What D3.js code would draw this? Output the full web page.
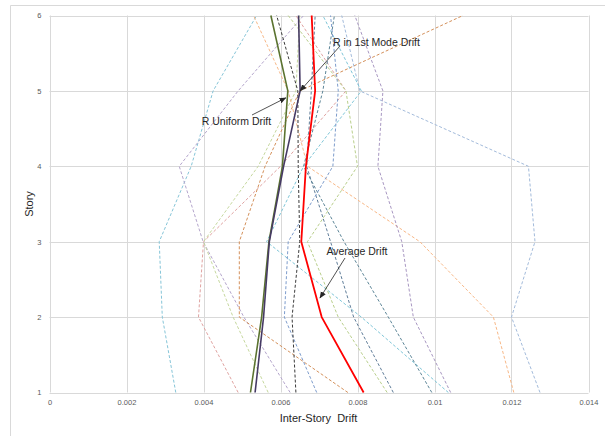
<!DOCTYPE html>
<html>
<head>
<meta charset="utf-8">
<script src="https://cdn.jsdelivr.net/npm/d3@7"></script>
<style>
  html, body { margin: 0; padding: 0; background: #fff; }
  svg { display: block; font-family: "Liberation Sans", Arial, sans-serif; }
</style>
</head>
<body>
<svg id="chart" width="605" height="436"></svg>
<script>
// ---------- data ----------
const stories = [1, 2, 3, 4, 5, 6];
const xTicks = [0, 0.002, 0.004, 0.006, 0.008, 0.01, 0.012, 0.014];
const xTickLabels = ["0", "0.002", "0.004", "0.006", "0.008", "0.01", "0.012", "0.014"];
const yTicks = [1, 2, 3, 4, 5, 6];

// individual record drifts (story 1 .. 6)
const gm01 = [0.00328, 0.00293, 0.00285, 0.00368, 0.00425, 0.00538];
const gm02 = [0.00625, 0.00505, 0.00399, 0.00337, 0.00490, 0.00660];
const gm03 = [0.00490, 0.00387, 0.00400, 0.00600, 0.00770, 0.00640];
const gm04 = [0.00568, 0.00477, 0.00400, 0.00542, 0.00640, 0.00650];
const gm05 = [0.00775, 0.00493, 0.00493, 0.00560, 0.00650, 0.01074];
const gm06 = [0.01206, 0.01153, 0.00962, 0.00670, 0.00620, 0.00530];
const gm07 = [0.01274, 0.01200, 0.01261, 0.01244, 0.00806, 0.00759];
const gm08 = [0.01042, 0.00945, 0.00915, 0.00853, 0.00866, 0.00793];
const gm09 = [0.01036, 0.00810, 0.00564, 0.00660, 0.00810, 0.00710];
const gm10 = [0.00893, 0.00790, 0.00730, 0.00668, 0.00680, 0.00690];
const gm11 = [0.00993, 0.00880, 0.00765, 0.00660, 0.00710, 0.00740];
const gm12 = [0.00877, 0.00750, 0.00670, 0.00800, 0.00770, 0.00620];
const gm13 = [0.00694, 0.00610, 0.00620, 0.00736, 0.00750, 0.00730];
const gm14 = [0.00640, 0.00630, 0.00650, 0.00646, 0.00645, 0.00590];

// summary drifts
const averageDrift = [0.00816, 0.00707, 0.00654, 0.00666, 0.00690, 0.00681];
const uniformDrift = [0.00522, 0.00551, 0.00570, 0.00605, 0.00619, 0.00575];
const modeDrift    = [0.00534, 0.00556, 0.00571, 0.00608, 0.00651, 0.00647];

// ---------- styles ----------
const dashedSeries = [
  { v: gm01, c: "#86c5d8" }, { v: gm02, c: "#b4a5cc" }, { v: gm03, c: "#e0a3a1" },
  { v: gm04, c: "#c6d89e" }, { v: gm05, c: "#d4905a" }, { v: gm06, c: "#f8b887" },
  { v: gm07, c: "#a3bbdb" }, { v: gm08, c: "#a897c2" }, { v: gm09, c: "#7fc6d8" },
  { v: gm10, c: "#5f7d99" }, { v: gm11, c: "#5c8597" }, { v: gm12, c: "#b9cf8c" },
  { v: gm13, c: "#7d9ccc" }, { v: gm14, c: "#3a3a3a" }
];
const solidSeries = [
  { v: uniformDrift, c: "#5b7330", w: 1.6 },
  { v: modeDrift, c: "#463a64", w: 1.6 },
  { v: averageDrift, c: "#ff0000", w: 1.8 }
];

// ---------- drawing ----------
const svg = d3.select("#chart");
const x = d3.scaleLinear().domain([0, 0.014]).range([49.5, 588.5]);
const y = d3.scaleLinear().domain([1, 6]).range([392.5, 15.5]);

// outer chart border (partially cropped)
svg.append("path")
  .attr("d", "M10.5,436 L10.5,5.5 L605,5.5")
  .attr("fill", "none").attr("stroke", "#d9d9d9").attr("stroke-width", 1);

// gridlines
const grid = svg.append("g");
grid.selectAll("line.v").data(xTicks).enter().append("line")
  .attr("x1", d => Math.round(x(d)) + 0.5).attr("x2", d => Math.round(x(d)) + 0.5)
  .attr("y1", y(6)).attr("y2", y(1))
  .attr("stroke", "#d9d9d9").attr("stroke-width", 1);
grid.selectAll("line.h").data(yTicks).enter().append("line")
  .attr("x1", x(0)).attr("x2", x(0.014))
  .attr("y1", d => Math.round(y(d)) + 0.5).attr("y2", d => Math.round(y(d)) + 0.5)
  .attr("stroke", "#d9d9d9").attr("stroke-width", 1);

// axes labels via d3 axes
const xAxis = d3.axisBottom(x).tickValues(xTicks)
  .tickFormat((d, i) => xTickLabels[i]).tickSize(0).tickPadding(7);
svg.append("g").attr("transform", `translate(0,${y(1)})`).call(xAxis)
  .call(g => g.select(".domain").remove())
  .call(g => g.selectAll("text").attr("fill", "#595959").attr("font-size", "7.5px")
    .attr("font-family", "Liberation Sans, Arial, sans-serif"));

const yAxis = d3.axisLeft(y).tickValues(yTicks).tickFormat(d3.format("d"))
  .tickSize(0).tickPadding(8);
svg.append("g").attr("transform", `translate(${x(0)},0)`).call(yAxis)
  .call(g => g.select(".domain").remove())
  .call(g => g.selectAll("text").attr("fill", "#595959").attr("font-size", "7.5px")
    .attr("font-family", "Liberation Sans, Arial, sans-serif"));

// lines
const line = d3.line().x(d => x(d[0])).y(d => y(d[1]));
const toPts = v => v.map((d, i) => [d, stories[i]]);

svg.append("g").selectAll("path").data(dashedSeries).enter().append("path")
  .attr("d", d => line(toPts(d.v)))
  .attr("fill", "none").attr("stroke", d => d.c).attr("stroke-width", 1)
  .attr("stroke-dasharray", "3,2");

svg.append("g").selectAll("path").data(solidSeries).enter().append("path")
  .attr("d", d => line(toPts(d.v)))
  .attr("fill", "none").attr("stroke", d => d.c).attr("stroke-width", d => d.w)
  .attr("stroke-linejoin", "round");

// axis titles
svg.append("text").attr("x", 318.5).attr("y", 422).attr("text-anchor", "middle")
  .attr("font-size", "11px").attr("fill", "#262626").style("white-space", "pre")
  .text("Inter-Story  Drift");
svg.append("text").attr("transform", `translate(33,${(y(1) + y(6)) / 2}) rotate(-90)`)
  .attr("text-anchor", "middle").attr("font-size", "11px").attr("fill", "#262626")
  .text("Story");

// annotations with arrows
const defs = svg.append("defs");
defs.append("marker").attr("id", "arrow").attr("viewBox", "0 0 10 10")
  .attr("refX", 9).attr("refY", 5).attr("markerWidth", 7).attr("markerHeight", 7)
  .attr("markerUnits", "userSpaceOnUse").attr("orient", "auto")
  .append("path").attr("d", "M0,1 L10,5 L0,9 Z").attr("fill", "#262626");

const notes = [
  { t: "R Uniform Drift", tx: 236.5, ty: 125, x1: 252, y1: 115, x2: x(uniformDrift[4]) - 2, y2: y(5) + 7 },
  { t: "R in 1st Mode Drift", tx: 376.5, ty: 46, x1: 340, y1: 46, x2: x(modeDrift[4]), y2: y(5) },
  { t: "Average Drift", tx: 357, ty: 255, x1: 345, y1: 258, x2: 320, y2: 298 }
];
const ng = svg.append("g");
ng.selectAll("line").data(notes).enter().append("line")
  .attr("x1", d => d.x1).attr("y1", d => d.y1).attr("x2", d => d.x2).attr("y2", d => d.y2)
  .attr("stroke", "#262626").attr("stroke-width", 0.8).attr("marker-end", "url(#arrow)");
ng.selectAll("text").data(notes).enter().append("text")
  .attr("x", d => d.tx).attr("y", d => d.ty).attr("text-anchor", "middle")
  .attr("font-size", "10.5px").attr("fill", "#262626")
  .text(d => d.t);
</script>
</body>
</html>
